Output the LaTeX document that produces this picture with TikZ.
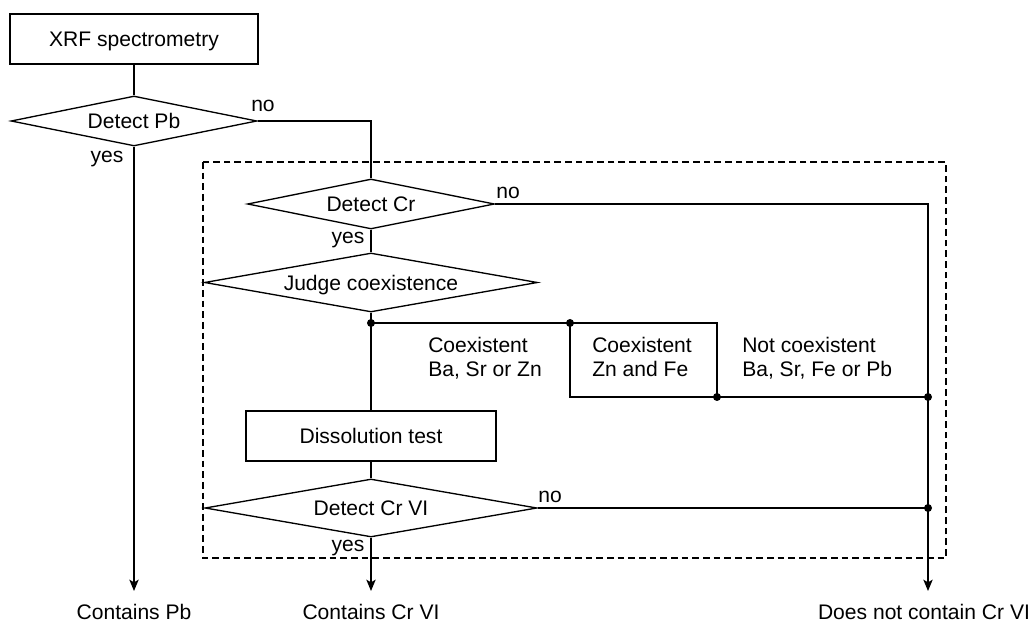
\documentclass[tikz,border=0pt]{standalone}
\usepackage{fontspec}
\setmainfont{Liberation Sans}
\usetikzlibrary{shapes.geometric,arrows.meta}
\begin{document}
\begin{tikzpicture}[x=0.75pt,y=-0.75pt,
  every node/.style={font=\fontsize{15.8}{18}\selectfont},
  ln/.style={line width=1pt},
  procbox/.style={draw, line width=1pt, rectangle, inner sep=0pt, text height=11.3pt, text depth=0pt},
  decide/.style={draw, line width=1pt, diamond, inner sep=0pt, text height=11.3pt, text depth=0pt},
  lbl/.style={anchor=base, inner sep=0pt},
  lblw/.style={anchor=base west, inner sep=0pt},
  arr/.style={line width=1pt, -{Stealth[length=8.5pt,width=7pt,inset=2pt]}},
  dot/.style={circle, fill, inner sep=0pt, minimum size=6pt},
  dashbox/.style={line width=0.8pt, dash pattern=on 5pt off 3pt}
]
\useasboundingbox (0,0) rectangle (1032,623);

% dashed frame
\draw[dashbox] (203,162) rectangle (946,558);

% main nodes
\node[procbox, minimum width=186pt, minimum height=37.5pt] (xrf) at (134,39) {XRF spectrometry};
\node[decide, minimum width=184.5pt, minimum height=37.5pt, aspect=4.92] (pb) at (134,121) {Detect Pb};
\node[decide, minimum width=185.25pt, minimum height=37.5pt, aspect=4.94] (cr) at (371,204) {Detect Cr};
\node[decide, minimum width=249.75pt, minimum height=44.25pt, aspect=5.64] (judge) at (371,282.5) {Judge coexistence};
\node[procbox, minimum width=187.5pt, minimum height=37.5pt] (dis) at (371,436) {Dissolution test};
\node[decide, minimum width=249pt, minimum height=43.5pt, aspect=5.72] (crvi) at (371,508) {Detect Cr VI};

% junction coordinates
\coordinate (j1) at (371,323);
\coordinate (j2) at (570,323);
\coordinate (tr) at (717,323);
\coordinate (j3) at (717,397);
\coordinate (bl) at (570,397);
\coordinate (j4) at (928,397);
\coordinate (j5) at (928,508);
\coordinate (endpb) at (134,591);
\coordinate (endcr) at (371,591);
\coordinate (endno) at (928,591);

% connectors
\draw[ln] (xrf) -- (pb);
\draw[ln] (pb.east) -| (cr.north);
\draw[arr] (pb.south) -- (endpb);
\draw[arr] (cr.east) -| (endno);
\draw[ln] (cr) -- (judge);
\draw[ln] (judge) -- (dis);
\draw[ln] (j1) -- (tr) -- (j3);
\draw[ln] (j2) -- (bl) -- (j4);
\draw[ln] (dis) -- (crvi);
\draw[ln] (crvi.east) -- (j5);
\draw[arr] (crvi.south) -- (endcr);

% dots
\node[dot] (d1) at (j1) {};
\node[dot] (d2) at (j2) {};
\node[dot] (d3) at (j3) {};
\node[dot] (d4) at (j4) {};
\node[dot] (d5) at (j5) {};

% yes / no labels
\node[lbl] (nopb) at (263,112) {no};
\node[lbl] (yespb) at (107,163) {yes};
\node[lbl] (nocr) at (508,199) {no};
\node[lbl] (yescr) at (348,244) {yes};
\node[lbl] (nocrvi) at (550,503) {no};
\node[lbl] (yescrvi) at (348,551) {yes};

% branch texts
\node[lblw] (ta1) at (428,353) {Coexistent};
\node[lblw] (ta2) at (428,377) {Ba, Sr or Zn};
\node[lblw] (tb1) at (592,353) {Coexistent};
\node[lblw] (tb2) at (592,377) {Zn and Fe};
\node[lblw] (tc1) at (742,353) {Not coexistent};
\node[lblw] (tc2) at (742,377) {Ba, Sr, Fe or Pb};

% results
\node[lbl] (rpb) at (134,619) {Contains Pb};
\node[lbl] (rcr) at (371,619) {Contains Cr VI};
\node[lbl] (rno) at (924,619) {Does not contain Cr VI};
\end{tikzpicture}
\end{document}
